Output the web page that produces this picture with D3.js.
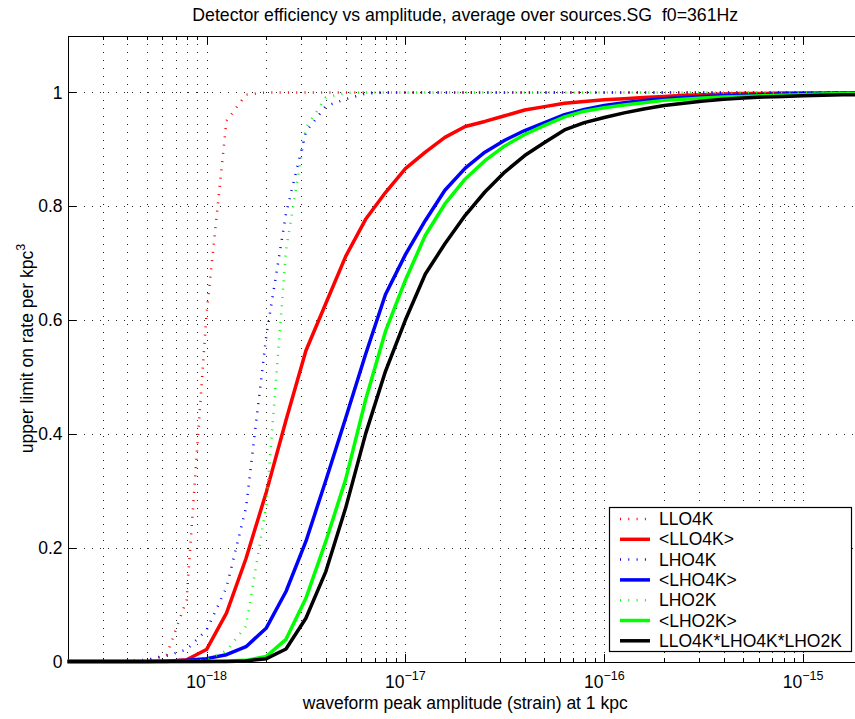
<!DOCTYPE html>
<html>
<head>
<meta charset='UTF-8'>
<title>Detector efficiency</title>
<script src='https://d3js.org/d3.v7.min.js'></script>
<style>
    body {margin:0; background:#fff;}
    svg {display:block; font-family:'Liberation Sans', Arial, Helvetica, sans-serif;}
    .grid line {stroke:#222; stroke-width:1; stroke-dasharray:1,7; shape-rendering:crispEdges;}
    .axis path, .axis line {stroke:#000; shape-rendering:crispEdges;}
    .axis text {font-size:17.5px; fill:#000;}
    .line {fill:none;}
</style>
</head>
<body>
<div id='chart'></div>
<script>
/* data */
var amplitude = [
  2.00e-19, 2.51e-19, 3.16e-19, 3.98e-19, 5.01e-19, 6.31e-19, 7.94e-19,
  1.00e-18, 1.26e-18, 1.58e-18, 2.00e-18, 2.51e-18, 3.16e-18, 3.98e-18, 5.01e-18, 6.31e-18, 7.94e-18,
  1.00e-17, 1.26e-17, 1.58e-17, 2.00e-17, 2.51e-17, 3.16e-17, 3.98e-17, 5.01e-17, 6.31e-17, 7.94e-17,
  1.00e-16, 1.26e-16, 1.58e-16, 2.00e-16, 2.51e-16, 3.16e-16, 3.98e-16, 5.01e-16, 6.31e-16, 7.94e-16,
  1.00e-15, 1.26e-15, 1.58e-15, 2.00e-15
];

var llo4k = [0, 0, 0, 0, 0.002, 0.012, 0.108,
  0.61, 0.95, 0.996, 1, 1, 1, 1, 1, 1, 1,
  1, 1, 1, 1, 1, 1, 1, 1, 1, 1,
  1, 1, 1, 1, 1, 1, 1, 1, 1, 1,
  1, 1, 1, 1];

var llo4kAvg = [0, 0, 0, 0, 0, 0, 0.003,
  0.021, 0.085, 0.181, 0.298, 0.424, 0.546, 0.629, 0.712, 0.777, 0.824,
  0.866, 0.895, 0.921, 0.940, 0.949, 0.959, 0.969, 0.975, 0.981, 0.984,
  0.987, 0.989, 0.991, 0.993, 0.995, 0.996, 0.997, 0.998, 0.998, 0.999,
  0.999, 0.999, 0.999, 0.999];

var lho4k = [0, 0, 0, 0.001, 0.003, 0.010, 0.021,
  0.055, 0.130, 0.270, 0.573, 0.787, 0.931, 0.976, 0.988, 0.998, 1,
  1, 1, 1, 1, 1, 1, 1, 1, 1, 1,
  1, 1, 1, 1, 1, 1, 1, 1, 1, 1,
  1, 1, 1, 1];

var lho4kAvg = [0, 0, 0, 0, 0, 0.001, 0.002,
  0.005, 0.012, 0.026, 0.059, 0.123, 0.211, 0.318, 0.428, 0.540, 0.645,
  0.715, 0.775, 0.828, 0.867, 0.895, 0.916, 0.933, 0.947, 0.961, 0.970,
  0.977, 0.982, 0.986, 0.989, 0.991, 0.993, 0.994, 0.995, 0.996, 0.997,
  0.998, 0.998, 0.999, 0.999];

var lho2k = [0, 0, 0, 0, 0, 0, 0,
  0.003, 0.019, 0.062, 0.275, 0.722, 0.938, 0.991, 0.999, 1, 1,
  1, 1, 1, 1, 1, 1, 1, 1, 1, 1,
  1, 1, 1, 1, 1, 1, 1, 1, 1, 1,
  1, 1, 1, 1];

var lho2kAvg = [0, 0, 0, 0, 0, 0, 0,
  0, 0.001, 0.002, 0.009, 0.039, 0.111, 0.211, 0.320, 0.460, 0.580,
  0.670, 0.749, 0.804, 0.848, 0.880, 0.906, 0.926, 0.942, 0.957, 0.967,
  0.973, 0.978, 0.982, 0.986, 0.988, 0.990, 0.992, 0.993, 0.994, 0.995,
  0.996, 0.997, 0.998, 0.998];

var network = [0, 0, 0, 0, 0, 0, 0,
  0, 0, 0.001, 0.005, 0.022, 0.076, 0.158, 0.270, 0.400, 0.510,
  0.600, 0.681, 0.734, 0.784, 0.825, 0.860, 0.889, 0.912, 0.934, 0.947,
  0.956, 0.964, 0.971, 0.977, 0.981, 0.985, 0.988, 0.990, 0.992, 0.993,
  0.994, 0.995, 0.996, 0.996];

var seriesNames = ['LLO4K', '<LLO4K>', 'LHO4K', '<LHO4K>', 'LHO2K', '<LHO2K>', 'LLO4K*LHO4K*LHO2K'];
var seriesColors = ['#ff0000', '#ff0000', '#0000ff', '#0000ff', '#00ff00', '#00ff00', '#000000'];
var seriesDotted = [true, false, true, false, true, false, false];
var seriesValues = [llo4k, llo4kAvg, lho4k, lho4kAvg, lho2k, lho2kAvg, network];

var yTicks = [0, 0.2, 0.4, 0.6, 0.8, 1];
var xMajor = [1e-18, 1e-17, 1e-16, 1e-15];

var titleText = 'Detector efficiency vs amplitude, average over sources.SG\u00a0\u00a0f0=361Hz';
var xLabel = 'waveform peak amplitude (strain) at 1 kpc';
var yLabel = 'upper limit on rate per kpc';

/* layout */
var width = 855;
var height = 719;
var plotLeft = 67.5, plotRight = 863, plotTop = 35.5, plotBottom = 661.5;

var xScale = d3.scaleLog().domain([2e-19, 2e-15]).range([plotLeft, plotRight]);
var yScale = d3.scaleLinear().domain([0, 1.1]).range([plotBottom, plotTop]);

var svg = d3.select('#chart').append('svg')
  .attr('width', width)
  .attr('height', height);

/* grid */
var grid = svg.append('g').attr('class', 'grid');
grid.selectAll('.vgrid')
  .data(xScale.ticks())
  .enter().append('line')
  .attr('x1', d => Math.round(xScale(d)) + 0.5)
  .attr('x2', d => Math.round(xScale(d)) + 0.5)
  .attr('y1', plotTop)
  .attr('y2', plotBottom);
grid.selectAll('.hgrid')
  .data(yTicks.slice(1))
  .enter().append('line')
  .attr('x1', plotLeft)
  .attr('x2', width)
  .attr('y1', d => Math.round(yScale(d)) + 0.5)
  .attr('y2', d => Math.round(yScale(d)) + 0.5);

/* axes */
var minor = xScale.ticks().filter(d => xMajor.indexOf(d) < 0);

svg.append('g').attr('class', 'axis')
  .attr('transform', `translate(0, ${plotBottom})`)
  .call(d3.axisBottom(xScale).tickValues(xMajor).tickSize(-8).tickFormat(''));
svg.append('g').attr('class', 'axis')
  .attr('transform', `translate(0, ${plotBottom})`)
  .call(d3.axisBottom(xScale).tickValues(minor).tickSize(-4).tickFormat(''))
  .select('.domain').remove();
svg.append('g').attr('class', 'axis')
  .attr('transform', `translate(0, ${plotTop})`)
  .call(d3.axisTop(xScale).tickValues(xMajor).tickSize(-8).tickFormat(''));
svg.append('g').attr('class', 'axis')
  .attr('transform', `translate(0, ${plotTop})`)
  .call(d3.axisTop(xScale).tickValues(minor).tickSize(-4).tickFormat(''))
  .select('.domain').remove();

svg.append('g').attr('class', 'axis')
  .attr('transform', `translate(${plotLeft}, 0)`)
  .call(d3.axisLeft(yScale).tickValues(yTicks).tickSize(-8).tickPadding(5).tickFormat(d3.format('~g')));

/* x tick labels as 10^n */
var xLabels = svg.append('g').attr('class', 'axis');
xLabels.selectAll('text')
  .data(xMajor)
  .enter().append('text')
  .attr('x', d => xScale(d))
  .attr('y', 688)
  .attr('text-anchor', 'middle')
  .each(function(d) {
    var t = d3.select(this);
    t.append('tspan').text('10');
    t.append('tspan')
      .attr('dy', -8)
      .style('font-size', '12.5px')
      .text('\u2212' + Math.round(-Math.log10(d)));
  });

/* lines */
var line = d3.line()
  .x((d, i) => xScale(amplitude[i]))
  .y(d => yScale(d));

svg.append('g').attr('class', 'lines')
  .selectAll('path')
  .data(seriesValues).enter()
  .append('path')
  .attr('class', 'line')
  .attr('d', d => line(d))
  .style('stroke', (d, i) => seriesColors[i])
  .style('stroke-width', (d, i) => seriesDotted[i] ? 2.5 : 3.5)
  .style('stroke-dasharray', (d, i) => seriesDotted[i] ? '1,7.3' : null)
  .style('stroke-linejoin', 'round');

/* texts */
svg.append('text')
  .attr('x', (plotLeft + plotRight) / 2)
  .attr('y', 21)
  .attr('text-anchor', 'middle')
  .style('font-size', '17.7px')
  .text(titleText);

svg.append('text')
  .attr('x', (plotLeft + plotRight) / 2)
  .attr('y', 709)
  .attr('text-anchor', 'middle')
  .style('font-size', '17.5px')
  .text(xLabel);

var yl = svg.append('text')
  .attr('transform', `translate(33, ${(plotTop + plotBottom) / 2}) rotate(-90)`)
  .attr('text-anchor', 'middle')
  .style('font-size', '17.5px');
yl.append('tspan').text(yLabel);
yl.append('tspan').attr('dy', -8).style('font-size', '12.5px').text('3');

/* legend */
var legend = svg.append('g').attr('class', 'legend');
legend.append('rect')
  .attr('x', 609.5)
  .attr('y', 507.5)
  .attr('width', 242)
  .attr('height', 144)
  .attr('fill', '#fff')
  .attr('stroke', '#000')
  .attr('stroke-width', 1.2);

var rows = legend.selectAll('.row')
  .data(seriesNames).enter()
  .append('g')
  .attr('transform', (d, i) => `translate(0, ${519 + i * 20.3})`);
rows.append('line')
  .attr('x1', 620).attr('x2', 650)
  .attr('y1', 0).attr('y2', 0)
  .style('stroke', (d, i) => seriesColors[i])
  .style('stroke-width', (d, i) => seriesDotted[i] ? 2.5 : 3.5)
  .style('stroke-dasharray', (d, i) => seriesDotted[i] ? '1,7.3' : null);
rows.append('text')
  .attr('x', 659)
  .attr('y', 6)
  .style('font-size', '17.5px')
  .text(d => d);
</script>
</body>
</html>
